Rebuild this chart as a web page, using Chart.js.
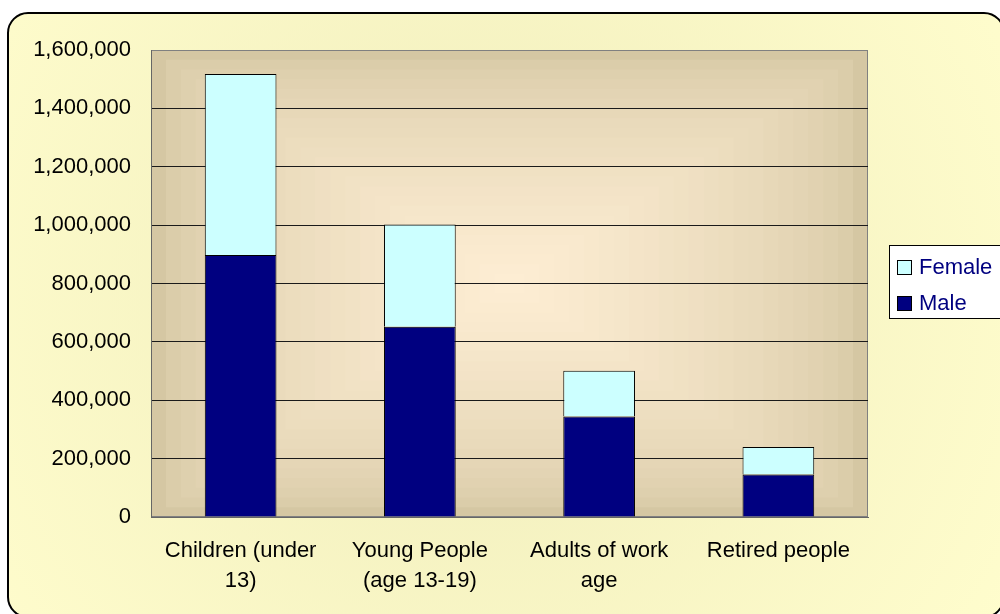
<!DOCTYPE html>
<html>
<head>
<meta charset="utf-8">
<script src="https://cdn.jsdelivr.net/npm/chart.js@4/dist/chart.umd.min.js"></script>
<style>
    html, body { margin: 0; padding: 0; background: #ffffff; }
    #wrap { width: 1000px; height: 614px; position: relative; }
</style>
</head>
<body>
<div id="wrap"><canvas id="populationChart"></canvas></div>
<script>
// data
const categories = [
    ['Children (under', '13)'],
    ['Young People', '(age 13-19)'],
    ['Adults of work', 'age'],
    ['Retired people']
];
const maleValues = [898000, 652000, 344000, 146000];
const femaleValues = [620000, 350000, 157000, 94000];
const yTicks = [0, 200000, 400000, 600000, 800000, 1000000, 1200000, 1400000, 1600000];

const FONT = "'Liberation Sans', Arial, sans-serif";

// mix two hex colours
function mix(a, b, t) {
    const pa = [1, 3, 5].map(i => parseInt(a.substr(i, 2), 16));
    const pb = [1, 3, 5].map(i => parseInt(b.substr(i, 2), 16));
    const c = pa.map((v, i) => Math.round(v + (pb[i] - v) * t));
    return `rgb(${c[0]},${c[1]},${c[2]})`;
}

// outer rounded panel + bevelled plot background
const backgroundPlugin = {
    id: 'background',
    beforeDraw(chart) {
        const { ctx, chartArea: a } = chart;
        ctx.save();

        // outer panel
        const x = 8, y = 13, w = 996, h = 604, r = 20;
        const g = ctx.createRadialGradient(480, 300, 50, 480, 300, 620);
        g.addColorStop(0, '#F1EEBD');
        g.addColorStop(1, '#FFFDCD');
        ctx.beginPath();
        ctx.roundRect(x, y, w, h, r);
        ctx.fillStyle = g;
        ctx.fill();
        ctx.lineWidth = 2;
        ctx.strokeStyle = '#000000';
        ctx.stroke();

        // plot area, rectangular gradient from the edges toward the centre
        const steps = 24;
        const pw = a.right - a.left, ph = a.bottom - a.top;
        for (let i = 0; i < steps; i++) {
            const t = i / (steps - 1);
            const ix = i * pw / 2 / steps;
            const iy = i * ph / 2 / steps;
            ctx.fillStyle = mix('#D5C7A3', '#FDEDD3', Math.pow(t, 0.6));
            ctx.fillRect(a.left + ix, a.top + iy, pw - 2 * ix, ph - 2 * iy);
        }
        ctx.strokeStyle = '#808080';
        ctx.lineWidth = 1;
        ctx.strokeRect(a.left + 0.5, a.top + 0.5, pw - 1, ph - 1);
        ctx.restore();
    }
};

// legend box on the right, Excel order (top series first)
const legendPlugin = {
    id: 'sideLegend',
    afterDraw(chart) {
        const { ctx } = chart;
        const items = chart.data.datasets.slice().reverse();
        ctx.save();
        ctx.fillStyle = '#ffffff';
        ctx.fillRect(889, 245, 120, 73);
        ctx.strokeStyle = '#000000';
        ctx.lineWidth = 1;
        ctx.strokeRect(889.5, 245.5, 120, 73);
        ctx.font = `22px ${FONT}`;
        ctx.textBaseline = 'middle';
        items.forEach((ds, i) => {
            const cy = 267 + i * 36;
            ctx.fillStyle = ds.backgroundColor;
            ctx.fillRect(897, cy - 7, 14, 14);
            ctx.strokeRect(897.5, cy - 6.5, 14, 14);
            ctx.fillStyle = '#000080';
            ctx.fillText(ds.label, 919, cy + 1);
        });
        ctx.restore();
    }
};

new Chart(document.getElementById('populationChart'), {
    type: 'bar',
    data: {
        labels: categories,
        datasets: [
            { label: 'Male', data: maleValues, backgroundColor: '#000080', borderColor: '#000000', borderWidth: 1 },
            { label: 'Female', data: femaleValues, backgroundColor: '#CCFFFF', borderColor: '#000000', borderWidth: 1 }
        ]
    },
    options: {
        responsive: true,
        maintainAspectRatio: false,
        animation: false,
        layout: { padding: { top: 50, right: 132, bottom: 0, left: 0 } },
        datasets: { bar: { categoryPercentage: 1, barPercentage: 0.4 } },
        plugins: {
            legend: { display: false },
            tooltip: { enabled: false }
        },
        scales: {
            x: {
                stacked: true,
                grid: { display: false, drawTicks: false },
                border: { color: '#666666' },
                ticks: {
                    color: '#000000',
                    padding: 19,
                    maxRotation: 0,
                    autoSkip: false,
                    font: { family: FONT, size: 22, lineHeight: 1.36 }
                },
                afterFit(scale) { scale.height = 97; }
            },
            y: {
                stacked: true,
                min: 0,
                max: 1600000,
                afterBuildTicks(scale) { scale.ticks = yTicks.map(v => ({ value: v })); },
                grid: {
                    drawTicks: false,
                    color: ctx => (ctx.tick && ctx.tick.value === 1600000 ? '#808080' : '#1a1a1a'),
                    lineWidth: 1
                },
                border: { color: '#666666' },
                ticks: {
                    color: '#000000',
                    padding: 20,
                    font: { family: FONT, size: 22 },
                    callback: v => v.toLocaleString('en-US')
                },
                afterFit(scale) { scale.width = 151; }
            }
        }
    },
    plugins: [backgroundPlugin, legendPlugin]
});
</script>
</body>
</html>
